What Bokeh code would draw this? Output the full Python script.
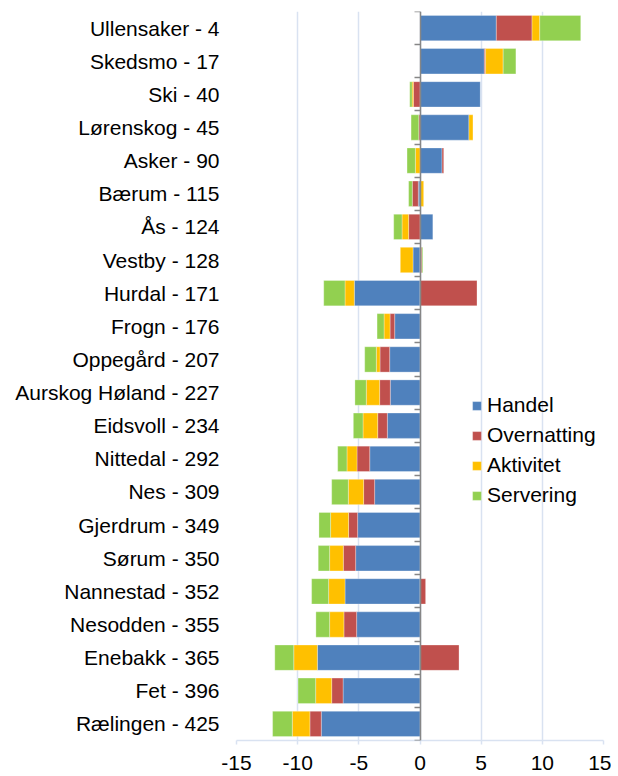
from bokeh.plotting import figure
from bokeh.models import (Range1d, FixedTicker, LinearAxis, Legend, LegendItem,
                          CustomJSTickFormatter)
from bokeh.embed import file_html
from bokeh.resources import INLINE

categories = ["Ullensaker - 4", "Skedsmo - 17", "Ski - 40", "Lørenskog - 45", "Asker - 90",
              "Bærum - 115", "Ås - 124", "Vestby - 128", "Hurdal - 171", "Frogn - 176",
              "Oppegård - 207", "Aurskog Høland - 227", "Eidsvoll - 234", "Nittedal - 292",
              "Nes - 309", "Gjerdrum - 349", "Sørum - 350", "Nannestad - 352", "Nesodden - 355",
              "Enebakk - 365", "Fet - 396", "Rælingen - 425"]

handel = [6.24, 5.26, 4.93, 4.0, 1.8, -0.14, 1.05, -0.57, -5.37, -2.07, -2.48, -2.43, -2.67,
          -4.11, -3.71, -5.1, -5.26, -6.13, -5.18, -8.39, -6.29, -8.07]
overnatting = [2.92, 0.1, -0.54, -0.1, 0.14, -0.49, -0.93, 0.15, 4.66, -0.38, -0.79, -0.87,
               -0.79, -1.04, -0.9, -0.74, -1.01, 0.46, -1.04, 3.19, -0.93, -0.93]
aktivitet = [0.63, 1.44, -0.11, 0.33, -0.38, 0.3, -0.54, -1.04, -0.76, -0.49, -0.3, -1.09,
             -1.2, -0.82, -1.25, -1.47, -1.12, -1.34, -1.17, -1.93, -1.31, -1.44]
servering = [3.35, 1.04, -0.19, -0.63, -0.68, -0.3, -0.68, 0.08, -1.74, -0.57, -0.95, -0.93,
             -0.79, -0.76, -1.36, -0.95, -0.93, -1.39, -1.12, -1.55, -1.44, -1.61]

series_names = ["Handel", "Overnatting", "Aktivitet", "Servering"]
series_values = [handel, overnatting, aktivitet, servering]
colors = ["#4F81BD", "#C0504D", "#FFC000", "#92D050"]
x_ticks = [-15, -10, -5, 0, 5, 10, 15]
x_tick_labels = ["-15", "-10", "-5", "0", "5", "10", "15"]

FONT = "Liberation Sans"
n = len(categories)
ys = [n - 1 - i for i in range(n)]

p = figure(frame_width=367, frame_height=729, output_backend="svg", toolbar_location=None,
           x_range=Range1d(-15, 15), y_range=Range1d(-0.5, n - 0.5),
           min_border_left=236, min_border_right=8, min_border_top=11, min_border_bottom=30)
p.outline_line_color = None
p.background_fill_color = "white"
p.border_fill_color = "white"

# stacking: positives to the right, negatives to the left, in series order
pos = [0.0] * n
neg = [0.0] * n
legend_items = []
for name, vals, col in zip(series_names, series_values, colors):
    lefts, rights = [], []
    for i, v in enumerate(vals):
        if v >= 0:
            lefts.append(pos[i]); rights.append(pos[i] + v); pos[i] += v
        else:
            rights.append(neg[i]); lefts.append(neg[i] + v); neg[i] += v
    r = p.hbar(y=ys, left=lefts, right=rights, height=0.765, fill_color=col,
               line_color="white", line_width=0.6, line_alpha=0.5)
    legend_items.append(LegendItem(label=name, renderers=[r]))

# x axis
xa = p.xaxis[0]
xa.ticker = FixedTicker(ticks=x_ticks)
xa.major_label_overrides = {t: s for t, s in zip(x_ticks, x_tick_labels)}
xa.axis_line_color = "#D9E2F1"
xa.axis_line_width = 1.5
xa.major_tick_line_color = "#D9E2F1"
xa.major_tick_line_width = 1.5
xa.major_tick_out = 4
xa.major_tick_in = 0
xa.minor_tick_line_color = None
xa.major_label_text_font = FONT
xa.major_label_text_font_size = "21px"
xa.major_label_text_color = "black"
xa.major_label_standoff = 11

p.xgrid.ticker = FixedTicker(ticks=x_ticks)
p.xgrid.grid_line_color = "#D9E2F1"
p.xgrid.grid_line_width = 1.5
p.ygrid.grid_line_color = None

# y axis: category labels
ya = p.yaxis[0]
ya.ticker = FixedTicker(ticks=ys)
ya.major_label_overrides = {y: c for y, c in zip(ys, categories)}
ya.axis_line_color = None
ya.major_tick_line_color = None
ya.minor_tick_line_color = None
ya.major_label_text_font = FONT
ya.major_label_text_font_size = "21px"
ya.major_label_text_color = "black"
ya.major_label_standoff = 11

# category axis line at x = 0 with ticks between categories
zero_axis = LinearAxis(fixed_location=0,
                       ticker=FixedTicker(ticks=[k - 0.5 for k in range(n + 1)]),
                       formatter=CustomJSTickFormatter(code="return ''"))
zero_axis.axis_line_color = "#868686"
zero_axis.axis_line_width = 1.5
zero_axis.major_tick_line_color = "#868686"
zero_axis.major_tick_line_width = 1.5
zero_axis.major_tick_in = 6
zero_axis.major_tick_out = 0
zero_axis.minor_tick_line_color = None
zero_axis.major_label_standoff = 0
p.add_layout(zero_axis, "right")

legend = Legend(items=legend_items, location=(235, 230))
legend.background_fill_alpha = 0
legend.border_line_color = None
legend.padding = 0
legend.margin = 0
legend.spacing = 0
legend.glyph_width = 11
legend.glyph_height = 11
legend.label_height = 30
legend.label_standoff = 5
legend.label_text_font = FONT
legend.label_text_font_size = "21px"
legend.label_text_color = "black"
p.add_layout(legend)

open("out.html", "w").write(file_html(p, INLINE))
